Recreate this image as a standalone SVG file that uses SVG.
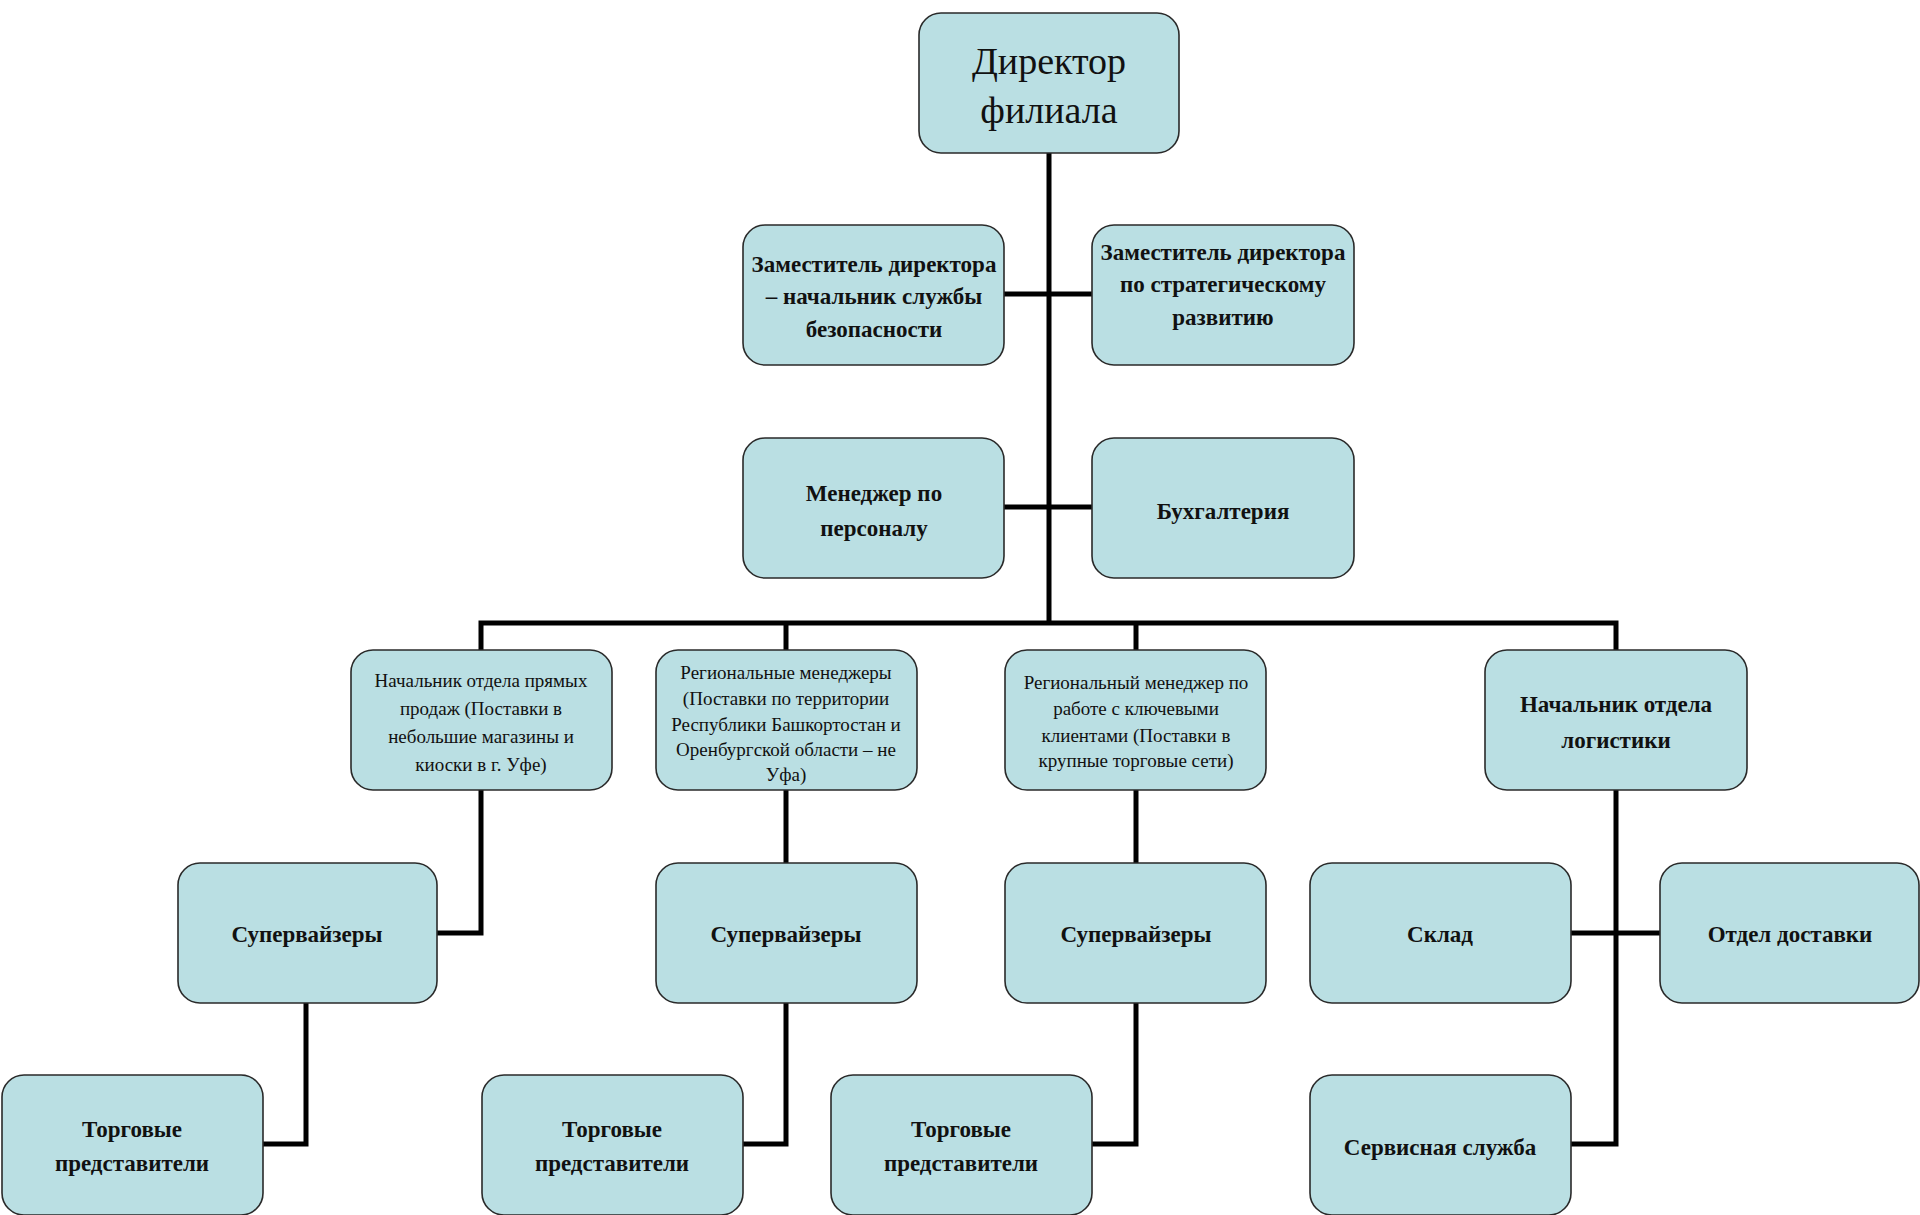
<svg xmlns="http://www.w3.org/2000/svg" width="1920" height="1215" viewBox="0 0 1920 1215">
<style>
.box{fill:#badfe3;stroke:#2a2a2a;stroke-width:1.6}
.t{font-family:"Liberation Serif","Times New Roman",serif;fill:#111;text-anchor:middle;dominant-baseline:central}
.b{font-weight:bold;font-size:23px}
.r{font-size:19px}
.big{font-size:38px}
.c{fill:none;stroke:#000;stroke-width:5}
</style>
<rect width="1920" height="1215" fill="#fff"/>
<g id="connectors">
<path class="c" d="M1049 153V623"/>
<path class="c" d="M1004 294H1092"/>
<path class="c" d="M1004 507H1092"/>
<path class="c" d="M481 650V623H1616V650"/>
<path class="c" d="M786 623V650"/>
<path class="c" d="M1136 623V650"/>
<path class="c" d="M481 790V933H437"/>
<path class="c" d="M786 790V863"/>
<path class="c" d="M1136 790V863"/>
<path class="c" d="M1616 790V1144H1571"/>
<path class="c" d="M1571 933H1660"/>
<path class="c" d="M306 1003V1144H263"/>
<path class="c" d="M786 1003V1144H743"/>
<path class="c" d="M1136 1003V1144H1092"/>
</g>
<g id="director">
<rect class="box" x="919" y="13" width="260" height="140" rx="22"/>
<text class="t big" x="1049" y="61">Директор</text>
<text class="t big" x="1049" y="110">филиала</text>
</g>
<g id="deputy-security">
<rect class="box" x="743" y="225" width="261" height="140" rx="22"/>
<text class="t b" x="874" y="264">Заместитель директора</text>
<text class="t b" x="874" y="296">– начальник службы</text>
<text class="t b" x="874" y="329">безопасности</text>
</g>
<g id="deputy-strategy">
<rect class="box" x="1092" y="225" width="262" height="140" rx="22"/>
<text class="t b" x="1223" y="252">Заместитель директора</text>
<text class="t b" x="1223" y="284">по стратегическому</text>
<text class="t b" x="1223" y="317">развитию</text>
</g>
<g id="hr-manager">
<rect class="box" x="743" y="438" width="261" height="140" rx="22"/>
<text class="t b" x="874" y="493">Менеджер по</text>
<text class="t b" x="874" y="528">персоналу</text>
</g>
<g id="accounting">
<rect class="box" x="1092" y="438" width="262" height="140" rx="22"/>
<text class="t b" x="1223" y="511">Бухгалтерия</text>
</g>
<g id="direct-sales">
<rect class="box" x="351" y="650" width="261" height="140" rx="22"/>
<text class="t r" x="481" y="680">Начальник отдела прямых</text>
<text class="t r" x="481" y="708">продаж (Поставки в</text>
<text class="t r" x="481" y="736">небольшие магазины и</text>
<text class="t r" x="481" y="764">киоски в г. Уфе)</text>
</g>
<g id="regional-managers">
<rect class="box" x="656" y="650" width="261" height="140" rx="22"/>
<text class="t r" x="786" y="672">Региональные менеджеры</text>
<text class="t r" x="786" y="698">(Поставки  по территории</text>
<text class="t r" x="786" y="724">Республики Башкортостан и</text>
<text class="t r" x="786" y="749">Оренбургской области – не</text>
<text class="t r" x="786" y="774">Уфа)</text>
</g>
<g id="key-accounts">
<rect class="box" x="1005" y="650" width="261" height="140" rx="22"/>
<text class="t r" x="1136" y="682">Региональный менеджер по</text>
<text class="t r" x="1136" y="708">работе с ключевыми</text>
<text class="t r" x="1136" y="735">клиентами (Поставки в</text>
<text class="t r" x="1136" y="760">крупные торговые сети)</text>
</g>
<g id="logistics">
<rect class="box" x="1485" y="650" width="262" height="140" rx="22"/>
<text class="t b" x="1616" y="704">Начальник отдела</text>
<text class="t b" x="1616" y="740">логистики</text>
</g>
<g id="supervisors-a">
<rect class="box" x="178" y="863" width="259" height="140" rx="22"/>
<text class="t b" x="307" y="934">Супервайзеры</text>
</g>
<g id="supervisors-b">
<rect class="box" x="656" y="863" width="261" height="140" rx="22"/>
<text class="t b" x="786" y="934">Супервайзеры</text>
</g>
<g id="supervisors-c">
<rect class="box" x="1005" y="863" width="261" height="140" rx="22"/>
<text class="t b" x="1136" y="934">Супервайзеры</text>
</g>
<g id="warehouse">
<rect class="box" x="1310" y="863" width="261" height="140" rx="22"/>
<text class="t b" x="1440" y="934">Склад</text>
</g>
<g id="delivery">
<rect class="box" x="1660" y="863" width="259" height="140" rx="22"/>
<text class="t b" x="1790" y="934">Отдел доставки</text>
</g>
<g id="sales-reps-a">
<rect class="box" x="2" y="1075" width="261" height="140" rx="22"/>
<text class="t b" x="132" y="1129">Торговые</text>
<text class="t b" x="132" y="1163">представители</text>
</g>
<g id="sales-reps-b">
<rect class="box" x="482" y="1075" width="261" height="140" rx="22"/>
<text class="t b" x="612" y="1129">Торговые</text>
<text class="t b" x="612" y="1163">представители</text>
</g>
<g id="sales-reps-c">
<rect class="box" x="831" y="1075" width="261" height="140" rx="22"/>
<text class="t b" x="961" y="1129">Торговые</text>
<text class="t b" x="961" y="1163">представители</text>
</g>
<g id="service">
<rect class="box" x="1310" y="1075" width="261" height="140" rx="22"/>
<text class="t b" x="1440" y="1147">Сервисная служба</text>
</g>
</svg>
